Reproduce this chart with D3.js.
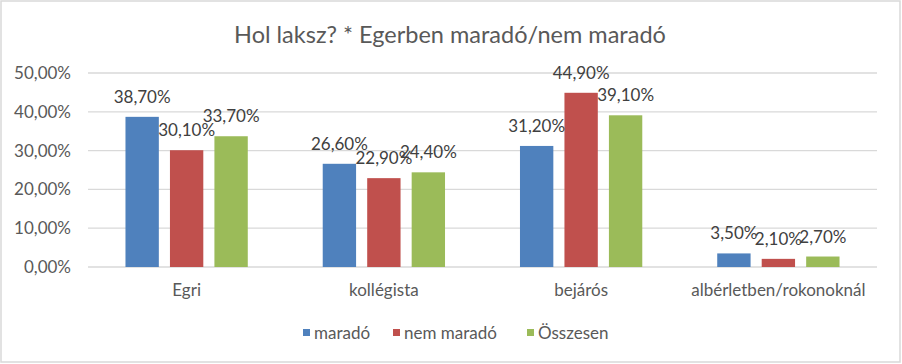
<!DOCTYPE html>
<html><head><meta charset="utf-8">
<script src="https://cdn.jsdelivr.net/npm/d3@7"></script>
<style>
html,body{margin:0;padding:0;background:#fff;}
svg{display:block;}
text{font-family:Lato,"Noto Sans",sans-serif;}
</style></head>
<body>
<svg id="chart" width="902" height="364"></svg>
<script>
const categories = ["Egri", "kollégista", "bejárós", "albérletben/rokonoknál"];
const seriesNames = ["maradó", "nem maradó", "Összesen"];
const marado = [38.7, 26.6, 31.2, 3.5];
const nemMarado = [30.1, 22.9, 44.9, 2.1];
const osszesen = [33.7, 24.4, 39.1, 2.7];
const yTicks = [0, 10, 20, 30, 40, 50];
const title = "Hol laksz? * Egerben maradó/nem maradó";

const colors = ["#4F81BD", "#C0504D", "#9BBB59"];
const seriesValues = [marado, nemMarado, osszesen];

const svg = d3.select("#chart");
const W = 902, H = 364;
const plot = {left: 88, right: 877, top: 73, bottom: 267};
const FS = 17;

svg.append("rect").attr("x", 1).attr("y", 1).attr("width", W - 3).attr("height", H - 3)
  .attr("fill", "#fff").attr("stroke", "#D9D9D9").attr("stroke-width", 1.5);

svg.append("text").attr("x", W / 2 - 1).attr("y", 43).attr("text-anchor", "middle")
  .attr("font-size", 23.5).attr("fill", "#595959").text(title);

const y = d3.scaleLinear().domain([0, 50]).range([plot.bottom, plot.top]);
const x0 = d3.scaleBand().domain(categories).range([plot.left, plot.right])
  .paddingInner(0.38).paddingOuter(0.19);
const x1 = d3.scaleBand().domain(seriesNames).range([0, x0.bandwidth()]).paddingInner(0.25);

const fmt = v => d3.format(".2f")(v).replace(".", ",") + "%";

// gridlines
svg.append("g").selectAll("line").data(yTicks).join("line")
  .attr("x1", plot.left).attr("x2", plot.right)
  .attr("y1", d => y(d)).attr("y2", d => y(d))
  .attr("stroke", "#D9D9D9").attr("stroke-width", 1.3);

// y axis labels
const yAxis = d3.axisLeft(y).tickValues(yTicks).tickFormat(fmt).tickSize(0).tickPadding(0);
const gy = svg.append("g").attr("transform", `translate(${plot.left - 17},0)`).call(yAxis);
gy.select(".domain").remove();
gy.selectAll("text").attr("font-size", FS).attr("fill", "#595959")
  .style("font-family", "Lato, 'Noto Sans', sans-serif");

// x axis labels
const xAxis = d3.axisBottom(x0).tickSize(0).tickPadding(0);
const gx = svg.append("g").attr("transform", `translate(0,${plot.bottom + 17})`).call(xAxis);
gx.select(".domain").remove();
gx.selectAll("text").attr("font-size", FS).attr("fill", "#595959")
  .style("font-family", "Lato, 'Noto Sans', sans-serif");

// bars
const data = [];
categories.forEach((c, i) => seriesNames.forEach((s, j) => data.push({c, s, j, v: seriesValues[j][i]})));

svg.append("g").selectAll("rect").data(data).join("rect")
  .attr("x", d => x0(d.c) + x1(d.s))
  .attr("y", d => y(d.v))
  .attr("width", x1.bandwidth())
  .attr("height", d => y(0) - y(d.v))
  .attr("fill", d => colors[d.j]);

svg.append("g").selectAll("text").data(data).join("text")
  .attr("x", d => x0(d.c) + x1(d.s) + x1.bandwidth() / 2)
  .attr("y", d => y(d.v) - 14)
  .attr("text-anchor", "middle")
  .attr("font-size", FS).attr("fill", "#404040")
  .text(d => fmt(d.v));

// legend
const legendX = [303, 393, 527];
const lg = svg.append("g");
seriesNames.forEach((s, j) => {
  lg.append("rect").attr("x", legendX[j]).attr("y", 329).attr("width", 7).attr("height", 7).attr("fill", colors[j]);
  lg.append("text").attr("x", legendX[j] + 11).attr("y", 339).attr("font-size", FS)
    .attr("fill", "#595959").text(s);
});
</script>
</body></html>
